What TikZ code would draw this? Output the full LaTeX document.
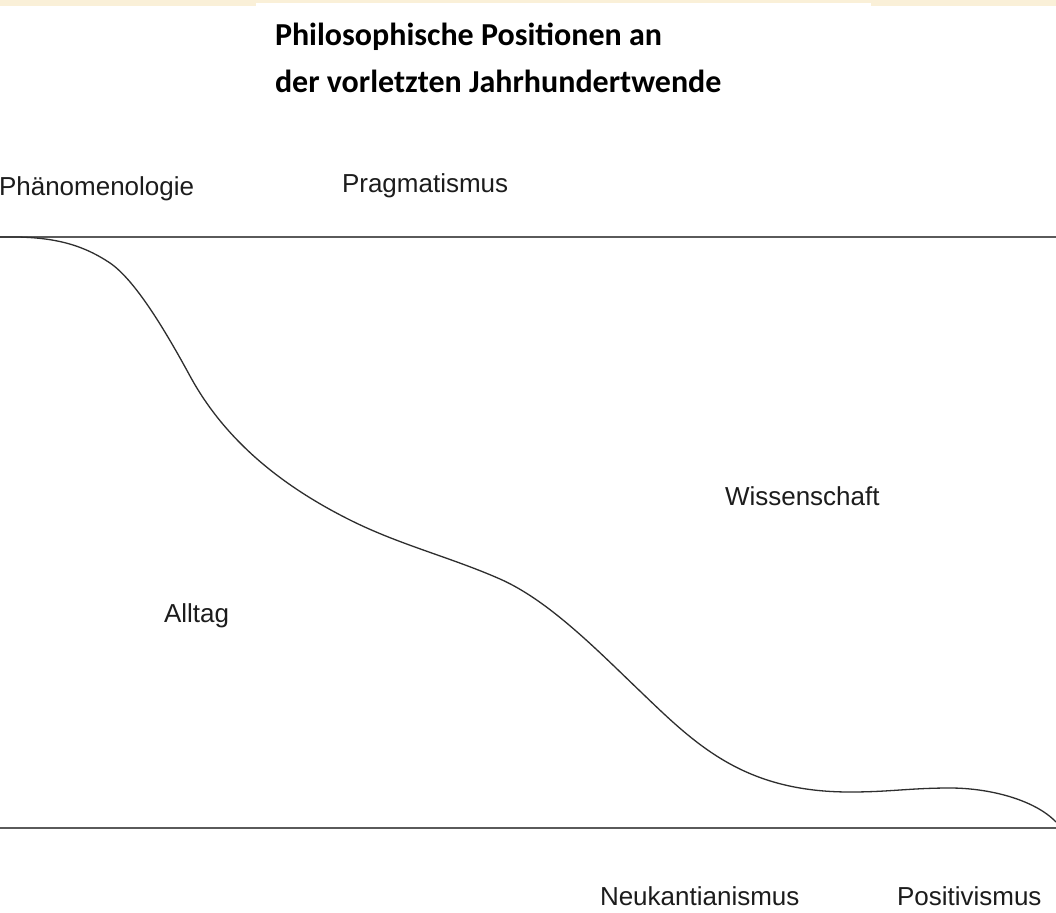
\documentclass[tikz,border=0pt]{standalone}
\usepackage{fontspec}
\setmainfont{Liberation Sans}
\newfontfamily\titlefont{Carlito}
\definecolor{cream}{HTML}{FAF0D8}
\definecolor{linegray}{HTML}{5A5A5A}
\definecolor{curvegray}{HTML}{2E2E2E}
\definecolor{labelcol}{HTML}{1C1C1C}
\tikzset{
  lbl/.style={anchor=base west, inner sep=0pt, outer sep=0pt, text=labelcol, font=\fontsize{26}{30}\selectfont},
  ttl/.style={anchor=base west, inner sep=0pt, outer sep=0pt, text=black, font=\titlefont\bfseries\fontsize{32}{38}\selectfont},
  axisline/.style={draw=linegray, line width=1.7pt},
  wave/.style={draw=curvegray, line width=1.3pt}
}
\begin{document}
\begin{tikzpicture}[x=1pt, y=-1pt]
\useasboundingbox (0,0) rectangle (1056,912);
\fill[white] (0,0) rectangle (1056,912);
% top band
\fill[cream] (0,0) rectangle (1056,6);
\fill[white] (256,3.2) rectangle (871,6);

% title
\node[ttl] (t1) at (275,46) {Philosophische Positionen an};
\node[ttl] (t2) at (275,93) {der vorletzten Jahrhundertwende};

% labels
\node[lbl] (phaen) at (-1,195) {Phänomenologie};
\node[lbl] (prag) at (342,193) {Pragmatismus};
\node[lbl] (wiss) at (725,505) {Wissenschaft};
\node[lbl] (allt) at (164,622) {Alltag};
\node[lbl] (neuk) at (600,905) {Neukantianismus};
\node[lbl] (posi) at (897,905) {Positivismus};

% border coordinates
\coordinate (tl) at (0,237);
\coordinate (tr) at (1056,237);
\coordinate (bl) at (0,828);
\coordinate (br) at (1056,828);
\coordinate (cend) at (1056,822);

\draw[axisline] (tl) -- (tr);
\draw[axisline] (bl) -- (br);

% the boundary curve
\draw[wave] (tl)
  .. controls (50,236) and (80,243) .. (110,263)
  .. controls (135,280) and (165,330) .. (190,376)
  .. controls (228,446) and (290,490) .. (350,520)
  .. controls (400,545) and (450,557) .. (500,579)
  .. controls (550,601) and (600,653) .. (642,693)
  .. controls (697,746) and (745,792) .. (850,792)
  .. controls (890,792) and (910,788) .. (950,788)
  .. controls (990,788) and (1035,800) .. (cend);
\end{tikzpicture}
\end{document}
